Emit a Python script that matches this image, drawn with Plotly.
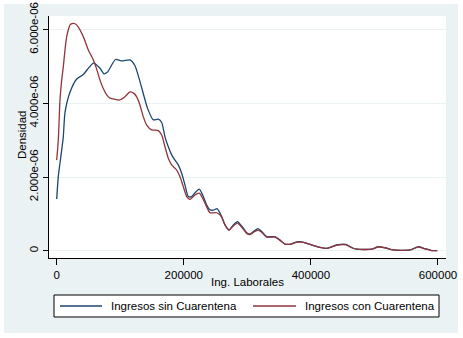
import plotly.graph_objects as go

# Kernel density of labour income, two scenarios (density in units of 1e-6)
x_sin = [0, 2520, 5190, 7870, 10390, 13060, 20930, 31470, 41860, 49730, 57910,
         68140, 74430, 79940, 92530, 102760, 115340, 123210, 131080, 142880,
         152010, 159880, 165230, 170420, 175610, 180960, 186150, 191350, 196700,
         201890, 207080, 212440, 219200, 224400, 229740, 236040, 241230, 246430,
         252250, 256970, 264840, 271130, 277900, 284510, 291590, 298980, 304170,
         310470, 316760, 322580, 330450, 343510, 351390, 359250, 368690, 378130,
         386000, 398590, 414330, 425340, 440610, 455240, 464680, 472550, 495680,
         506070, 516610, 529670, 555950, 569010, 579550, 590090, 598900]
y_sin = [1.40, 2.01, 2.38, 2.73, 3.09, 3.75, 4.30, 4.66, 4.78, 4.95, 5.09,
         4.95, 4.80, 4.85, 5.19, 5.15, 5.18, 5.02, 4.59, 3.87,
         3.55, 3.57, 3.48, 3.09, 2.82, 2.60, 2.46, 2.33, 2.10,
         1.78, 1.47, 1.47, 1.60, 1.67, 1.51, 1.24, 1.11, 1.10,
         1.14, 1.02, 0.70, 0.56, 0.70, 0.79, 0.66, 0.49, 0.45,
         0.53, 0.60, 0.52, 0.38, 0.38, 0.29, 0.18, 0.18, 0.24,
         0.24, 0.17, 0.09, 0.065, 0.155, 0.17, 0.08, 0.04, 0.04,
         0.11, 0.08, 0.02, 0.02, 0.11, 0.055, 0.005, 0.0]

x_con = [0, 2520, 5190, 7870, 10390, 13060, 15740, 18250, 20930, 25650, 28800,
         33990, 41860, 49730, 57590, 63420, 68140, 73330, 78680, 83870, 89060,
         98510, 107480, 115340, 121640, 126360, 131080, 136270, 141620, 149490,
         159880, 165230, 170420, 175610, 180960, 188830, 194020, 199210, 204560,
         209750, 217620, 224400, 229740, 236040, 241230, 251780, 259640, 264840,
         271130, 277900, 284510, 291590, 298980, 304170, 310470, 316760, 322580,
         330450, 343510, 351390, 359250, 368690, 378130, 386000, 398590, 414330,
         425340, 440610, 455240, 464680, 472550, 495680, 506070, 516610, 529670,
         555950, 569010, 579550, 590090, 598900]
y_con = [2.46, 3.00, 4.09, 4.63, 4.99, 5.45, 5.81, 5.99, 6.13, 6.17, 6.16,
         6.07, 5.81, 5.45, 5.18, 4.90, 4.63, 4.40, 4.23, 4.14, 4.12,
         4.09, 4.18, 4.31, 4.27, 4.16, 3.95, 3.64, 3.41, 3.28,
         3.26, 3.14, 2.82, 2.51, 2.33, 2.19, 2.01, 1.74, 1.47,
         1.39, 1.51, 1.56, 1.42, 1.19, 1.03, 1.03, 0.92, 0.70,
         0.56, 0.67, 0.75, 0.63, 0.47, 0.44, 0.51, 0.56, 0.50,
         0.37, 0.37, 0.28, 0.18, 0.18, 0.23, 0.23, 0.17, 0.09,
         0.065, 0.15, 0.16, 0.08, 0.04, 0.04, 0.10, 0.08, 0.02,
         0.02, 0.10, 0.05, 0.005, 0.0]

series_names = ["Ingresos sin Cuarentena", "Ingresos con Cuarentena"]
x_ticks = [0, 200000, 400000, 600000]
y_ticks = [0, 2e-6, 4e-6, 6e-6]
y_ticklabels = ["0", "2.000e-06", "4.000e-06", "6.000e-06"]

NAVY = "#1A476F"
MAROON = "#90353B"
BG = "#EAF2F3"
FONT = dict(family="Liberation Sans, Arial, sans-serif", size=11.5, color="black")
LINE_W = 1.3
colors = [NAVY, MAROON]

fig = go.Figure()
for xs, ys, name, col in zip([x_sin, x_con], [y_sin, y_con], series_names, colors):
    fig.add_trace(go.Scatter(x=xs, y=[v * 1e-6 for v in ys], mode="lines",
                             name=name, showlegend=False,
                             line=dict(color=col, width=LINE_W, shape="spline",
                                       smoothing=0.6)))

# outer tinted frame and white plotting region
fig.add_shape(type="rect", xref="paper", yref="paper", layer="below",
              x0=-0.1134, x1=1.0302, y0=-0.3099, y1=1.0496,
              fillcolor=BG, line_width=0)
fig.add_shape(type="rect", xref="paper", yref="paper", layer="below",
              x0=0, x1=1, y0=0, y1=1, fillcolor="white", line_width=0)

# key box below the axis, two entries side by side
fig.add_shape(type="rect", xref="paper", yref="paper",
              x0=0.0126, x1=0.9824, y0=-0.2438, y1=-0.1529,
              fillcolor="white", line=dict(color="black", width=1))
key_y = -0.1983
key_line_x = [(0.0277, 0.1335), (0.5139, 0.6222)]
key_text_x = [0.1511, 0.6398]
annotations = []
for (lx0, lx1), tx, name, col in zip(key_line_x, key_text_x, series_names, colors):
    fig.add_shape(type="line", xref="paper", yref="paper", x0=lx0, x1=lx1,
                  y0=key_y, y1=key_y, line=dict(color=col, width=LINE_W))
    annotations.append(dict(text=name, xref="paper", yref="paper", x=tx, y=key_y,
                            xanchor="left", yanchor="middle", showarrow=False,
                            font=FONT))

annotations += [
    dict(text="Ing. Laborales", xref="paper", yref="paper", x=0.5, y=-0.099,
         xanchor="center", yanchor="middle", showarrow=False, font=FONT),
    dict(text="Densidad", xref="paper", yref="paper", x=-0.068, y=0.508,
         xanchor="center", yanchor="middle", textangle=-90, showarrow=False,
         font=FONT),
]

fig.update_layout(
    width=463, height=338,
    margin=dict(l=49, r=17, t=16, b=80, autoexpand=False),
    paper_bgcolor="white", plot_bgcolor="white",
    font=FONT,
    showlegend=False,
    annotations=annotations,
)
fig.update_xaxes(range=[-12100, 612600], tickvals=x_ticks,
                 ticktext=[str(v) for v in x_ticks],
                 showgrid=False, zeroline=False, showline=True, linecolor="black",
                 linewidth=1, ticks="outside", ticklen=6, tickcolor="black",
                 tickfont=FONT)
fig.update_yaxes(range=[-0.198e-6, 6.37e-6], tickvals=y_ticks, ticktext=y_ticklabels,
                 tickangle=-90, showgrid=True, gridcolor=BG, gridwidth=1,
                 zeroline=False, showline=True, linecolor="black", linewidth=1,
                 ticks="outside", ticklen=5, tickcolor="black", tickfont=FONT)

fig.write_html("out.html")
